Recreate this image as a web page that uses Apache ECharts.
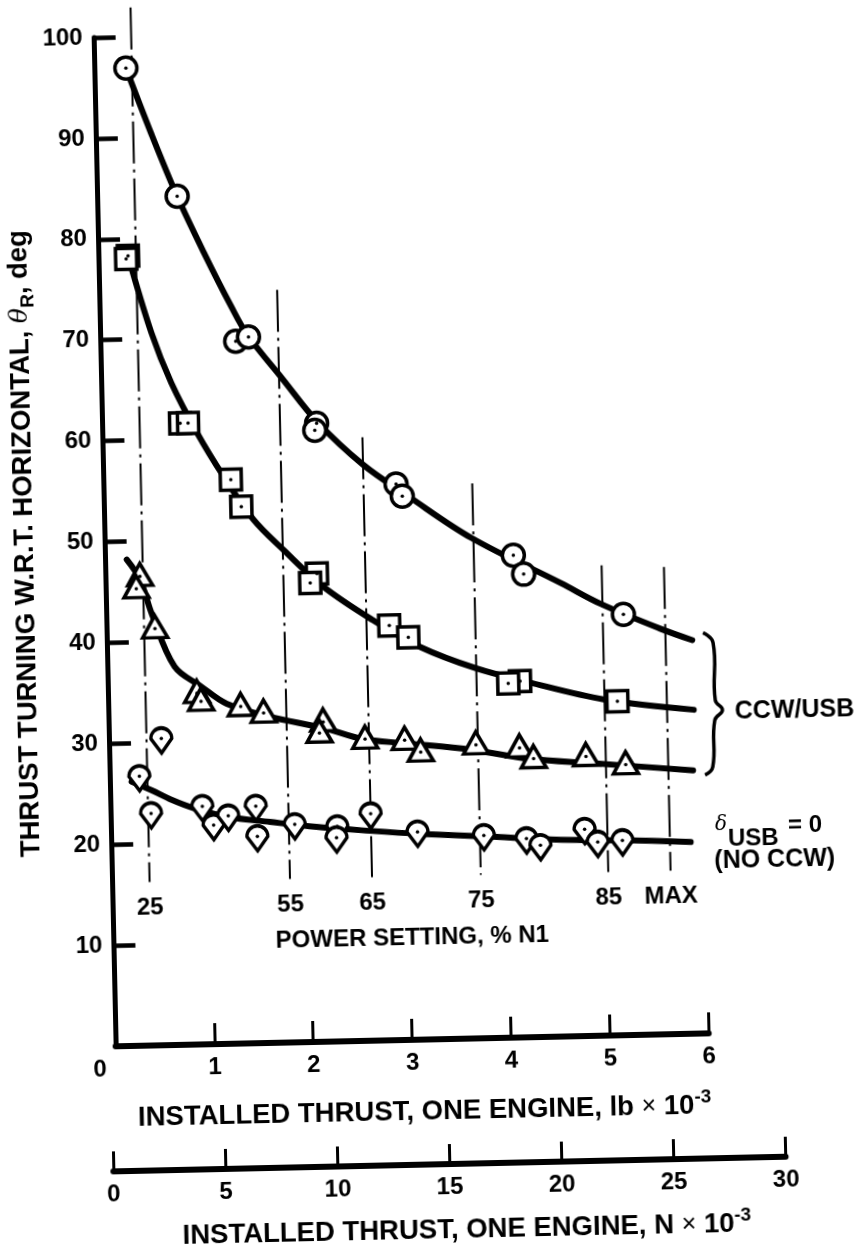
<!DOCTYPE html>
<html><head><meta charset="utf-8">
<script src="https://cdn.jsdelivr.net/npm/echarts@6/dist/echarts.min.js"></script>
<style>
html,body{margin:0;padding:0;background:#fff;}
#c{width:855px;height:1257px;transform:rotate(-1.25deg);transform-origin:400px 600px;}
</style></head><body><div id="c"></div>
<script>
// ---- data (x: thrust, lb x 10^-3 ; y: thrust turning, deg) ----
const circlePts = [[0.32,96.9],[0.81,84.1],[1.37,69.6],[1.50,70.0],[2.17,61.3],[2.15,60.6],[2.96,55.1],[3.02,53.9],[4.13,47.8],[4.23,45.9],[5.23,41.7]];
const circleFit = [[0.32,96.9],[0.56,90.4],[0.81,84.1],[1.07,78.4],[1.33,73.1],[1.49,70.2],[1.84,65.7],[2.18,61.4],[2.63,57.1],[3.09,53.8],[3.71,49.6],[4.61,44.9],[5.00,42.8],[5.60,40.2],[5.92,39.0]];
const squarePts = [[0.30,78.3],[0.28,78.0],[0.79,61.6],[0.87,61.6],[1.29,55.9],[1.39,53.2],[2.14,46.4],[2.07,45.5],[2.86,41.1],[3.05,39.9],[4.17,35.3],[4.05,35.1],[5.15,33.1]];
const squareFit = [[0.30,78.3],[0.52,70.6],[0.71,65.6],[0.96,60.6],[1.22,56.2],[1.51,51.9],[1.81,48.8],[2.20,45.1],[2.69,41.7],[3.17,38.9],[3.72,36.7],[4.25,35.2],[5.02,33.3],[5.92,32.1]];
const triPts = [[0.35,46.5],[0.31,45.3],[0.49,41.3],[0.90,34.8],[0.94,34.0],[1.34,33.4],[1.57,32.7],[2.17,31.7],[2.13,30.6],[2.59,29.9],[2.99,29.7],[3.15,28.5],[3.71,29.1],[4.15,28.7],[4.29,27.6],[4.82,27.7],[5.22,26.8]];
const triFit = [[0.22,48.2],[0.35,46.2],[0.46,42.8],[0.68,37.5],[0.94,35.5],[1.20,33.7],[1.64,32.3],[2.17,31.1],[2.57,29.9],[3.00,29.4],[3.67,28.6],[4.24,27.6],[4.90,27.0],[5.90,26.1]];
const diaPts = [[0.53,30.4],[0.30,26.7],[0.41,23.0],[0.93,23.6],[1.04,21.7],[1.19,22.6],[1.47,23.5],[1.48,20.5],[1.86,21.6],[2.29,21.3],[2.28,20.2],[2.63,22.5],[3.10,20.6],[3.77,20.1],[4.20,19.7],[4.34,19.0],[4.79,20.5],[4.92,19.2],[5.17,19.3]];
const diaFit = [[0.22,26.2],[0.42,25.3],[0.62,24.3],[0.85,23.4],[1.18,22.5],[1.61,21.9],[2.08,21.3],[2.62,20.8],[3.12,20.4],[3.78,20.0],[4.55,19.5],[5.22,19.3],[5.86,19.0]];
const powerLabels = ['25','55','65','75','85','MAX'];
const powerX = [0.38, 1.80, 2.63, 3.73, 5.02, 5.65];
const powerTop = [102.9, 74.6, 59.8, 55.0, 46.6, 46.3];
const bracePts = [[6.03,39.7],[6.13,38.7],[6.14,33.0],[6.21,32.0],[6.13,31.0],[6.10,26.4],[6.02,25.6]];
const lbTicks = [0,1,2,3,4,5,6];
const nTicks = [0,5,10,15,20,25,30];
const yTicks = [10,20,30,40,50,60,70,80,90,100];

// ---- layout / style ----
const FONT = '"Liberation Sans", Arial, Helvetica, sans-serif';
const POWER_BOTTOM = 16.2;
const POWER_LABEL_Y = 13.6;
const txt = {color:'#000', fontFamily:FONT, fontWeight:'bold'};

const chart = echarts.init(document.getElementById('c'), null, {renderer:'canvas'});

const series = [];
powerX.forEach((x, i) => {
  series.push({
    type:'line', xAxisIndex:0, yAxisIndex:0, z:1, clip:false, silent:true,
    symbol:'none',
    data:[[x, powerTop[i]], [x, POWER_BOTTOM]],
    lineStyle:{color:'#000', width:2, type:[42,6,3,6], opacity:1}
  });
});
series.push({
  type:'scatter', xAxisIndex:0, yAxisIndex:0, z:5, symbolSize:1, silent:true,
  itemStyle:{opacity:0},
  data: powerX.map((x,i)=>({value:[x, POWER_LABEL_Y], name:powerLabels[i]})),
  label:{show:true, position:'inside', formatter:p=>p.name, fontSize:24, opacity:1, ...txt}
});
function fit(d){ return {type:'line', xAxisIndex:0, yAxisIndex:0, z:2, data:d, smooth:0.35, symbol:'none', clip:false,
  lineStyle:{color:'#000', width:6, cap:'round', opacity:1}}; }
series.push(fit(circleFit), fit(squareFit), fit(triFit), fit(diaFit));
const mk = {color:'#fff', borderColor:'#000', borderWidth:3.5, opacity:1};
function marks(d, sym, size, off){ return {type:'scatter', xAxisIndex:0, yAxisIndex:0, z:3, data:d, symbol:sym,
  symbolSize:size, symbolOffset:off||[0,0], itemStyle:mk}; }
series.push(marks(circlePts,'circle',22));
series.push(marks(squarePts,'rect',21));
series.push(marks(triPts,'triangle',[25,22],[0,-2]));
series.push(marks(diaPts,'path://M1,8 A8,8 0 0,1 17,8 L9,19 Z',[21,25],[0,2]));
series.push({type:'scatter', xAxisIndex:0, yAxisIndex:0, z:4, symbol:'circle', symbolSize:3.5,
  data:[].concat(circlePts, squarePts, triPts, diaPts), itemStyle:{color:'#000', opacity:1}});

const nameRich = {x:{fontSize:25, fontWeight:'normal', color:'#000', fontFamily:FONT},
                  s:{fontSize:19, ...txt, verticalAlign:'top', lineHeight:19}};

chart.setOption({
  animation:false,
  backgroundColor:'#fff',
  grid:[
    {left:101, right:155.8, top:31, bottom:217},
    {left:101, right:81.6, top:1115, bottom:92}
  ],
  xAxis:[
    {gridIndex:0, type:'value', min:0, max:6, interval:1,
     axisLine:{show:true, onZero:false, lineStyle:{color:'#000', width:6}},
     axisTick:{show:true, inside:true, length:21, lineStyle:{color:'#000', width:3}},
     axisLabel:{margin:11, fontSize:24, ...txt, formatter:v=> v===0 ? '{z|0}' : String(v),
       rich:{z:{fontSize:24, ...txt, padding:[0,32,0,0]}}},
     splitLine:{show:false},
     name:'INSTALLED THRUST, ONE ENGINE, lb {x|×} 10{s|-3}', nameLocation:'middle', nameGap:54,
     nameTextStyle:{fontSize:27.5, ...txt, lineHeight:36, padding:[0,0,0,22], rich:nameRich}},
    {gridIndex:1, type:'value', min:0, max:30, interval:5,
     axisLine:{show:true, onZero:false, lineStyle:{color:'#000', width:6}},
     axisTick:{show:true, inside:true, length:20, lineStyle:{color:'#000', width:3}},
     axisLabel:{margin:11, fontSize:24, ...txt},
     splitLine:{show:false},
     name:'INSTALLED THRUST, ONE ENGINE, N {x|×} 10{s|-3}', nameLocation:'middle', nameGap:48,
     nameTextStyle:{fontSize:27.5, ...txt, lineHeight:36, padding:[0,0,0,32], rich:nameRich}}
  ],
  yAxis:[
    {gridIndex:0, type:'value', min:0, max:100, interval:10,
     axisLine:{show:true, onZero:false, lineStyle:{color:'#000', width:5}},
     axisTick:{show:true, inside:true, length:22, lineStyle:{color:'#000', width:4.5}},
     axisLabel:{margin:11, fontSize:24, ...txt, formatter:v=> yTicks.includes(v) ? String(v) : ''},
     splitLine:{show:false},
     name:'THRUST TURNING W.R.T. HORIZONTAL, {t|θ}{r|R}, deg', nameLocation:'middle', nameGap:50,
     nameTextStyle:{fontSize:27.5, ...txt, lineHeight:36,
       rich:{t:{fontSize:25, fontStyle:'italic', fontWeight:'normal', color:'#000', fontFamily:'"DejaVu Serif", serif'},
             r:{fontSize:19, ...txt, verticalAlign:'bottom', lineHeight:19}}}},
    {gridIndex:1, type:'value', show:false, min:0, max:1}
  ],
  graphic:[
    {id:'ccw', type:'text', x:792, y:719, style:{text:'CCW/USB', font:'bold 25px '+FONT, fill:'#000', align:'center', verticalAlign:'middle'}},
    {id:'d', type:'text', x:716, y:832, style:{text:'δ', font:'italic 20px "DejaVu Serif", serif', fill:'#000', align:'center', verticalAlign:'middle'}},
    {id:'usb', type:'text', x:748, y:846, style:{text:'USB', font:'bold 24px '+FONT, fill:'#000', align:'center', verticalAlign:'middle'}},
    {id:'eq', type:'text', x:800, y:834, style:{text:'= 0', font:'bold 24px '+FONT, fill:'#000', align:'center', verticalAlign:'middle'}},
    {id:'noccw', type:'text', x:769, y:868, style:{text:'(NO CCW)', font:'bold 25px '+FONT, fill:'#000', align:'center', verticalAlign:'middle'}},
    {id:'ps', type:'text', x:405, y:938, style:{text:'POWER SETTING, % N1', font:'bold 24px '+FONT, fill:'#000', align:'center', verticalAlign:'middle'}}
  ],
  series
});

// brace drawn from its data points through the chart's own axes
const bracePx = bracePts.map(p => chart.convertToPixel({xAxisIndex:0, yAxisIndex:0}, p));
chart.setOption({graphic:[{id:'brace', type:'polyline', z:10,
  shape:{points:bracePx, smooth:0.45}, style:{stroke:'#000', lineWidth:3.5, fill:null}}]});
</script></body></html>
